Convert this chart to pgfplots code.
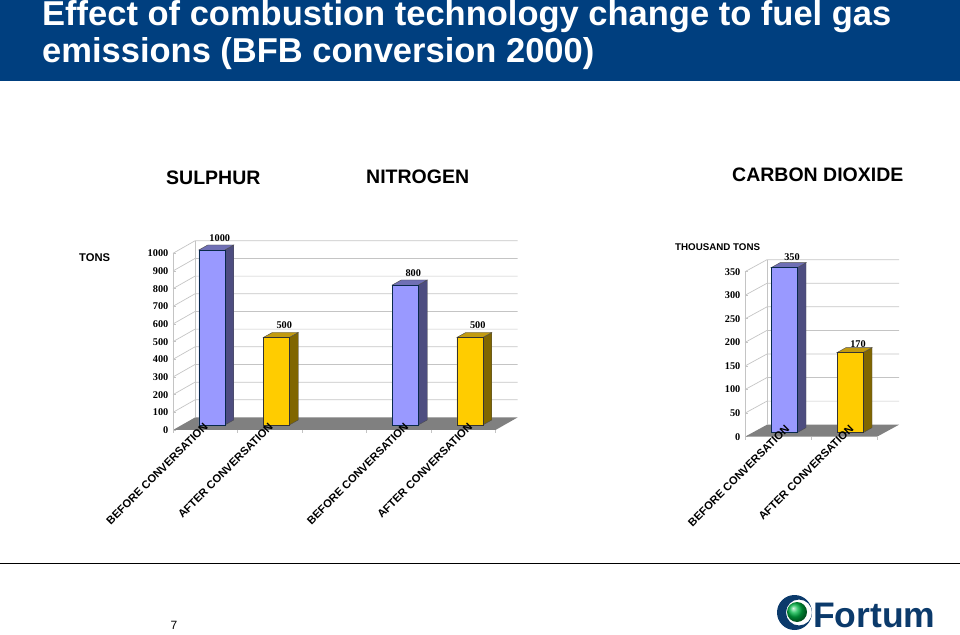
\documentclass[border=0pt]{standalone}
\usepackage{fontspec}
\setmainfont{Liberation Sans}
\newfontfamily\serifnum{Liberation Serif}
\usepackage{pgfplots}
\pgfplotsset{compat=1.18}

\definecolor{titleblue}{HTML}{003F7F}
\definecolor{navy}{HTML}{0B3A6B}
\definecolor{barblue}{HTML}{9999FF}
\definecolor{barblueside}{HTML}{4D4D80}
\definecolor{barbluetop}{HTML}{6F6FB5}
\definecolor{baryel}{HTML}{FFCC00}
\definecolor{baryelside}{HTML}{806600}
\definecolor{baryeltop}{HTML}{C29B10}
\definecolor{wallgrey}{HTML}{C4C4C4}
\definecolor{floorgrey}{HTML}{808080}

\tikzset{wall/.style={wallgrey, line width=.7pt}}

\pgfplotsset{
  every axis/.append style={
    scale only axis, clip=false, enlargelimits=false,
    /pgf/number format/assume math mode=true,
    /pgf/number format/1000 sep={},
  },
  frame3d/.style={
    axis line style={draw=none},
    xtick=\empty,
    tick style={wallgrey, line width=.7pt},
    major tick length=3pt,
    ymin=0,
    yticklabel style={font=\serifnum\bfseries\fontsize{10.3}{10}\selectfont, inner sep=0pt, xshift=-4.5pt},
    ytick pos=left,
    xmin=0,
  },
  bars3d/.style={
    axis on top,
    axis line style={draw=none},
    tick style={draw=none},
    ytick=\empty,
    xmin=0, ymin=0,
    xticklabel style={rotate=45, anchor=east, inner sep=0pt,
      font=\bfseries\fontsize{11.1}{12}\selectfont},
    nodes near coords,
    every node near coord/.append style={anchor=center, inner sep=0pt, xshift=8pt,
      font=\serifnum\bfseries\fontsize{10.3}{10}\selectfont, text=black},
  },
  barblue/.style={ybar, bar shift=0pt, bar width=26pt, draw=navy!70!black, fill=barblue},
  baryel/.style={ybar, bar shift=0pt, bar width=26pt, draw=black!80, fill=baryel},
}

% side and top face of one bar: centre x, value, side colour, top colour
\newcommand{\barfaces}[4]{
  \draw[black!70, fill=#3] ([xshift=13pt]axis cs:#1,0) -- ([xshift=22pt,yshift=5pt]axis cs:#1,0)
    -- ([xshift=22pt,yshift=5pt]axis cs:#1,#2) -- ([xshift=13pt]axis cs:#1,#2) -- cycle;
  \draw[black!70, fill=#4] ([xshift=-13pt]axis cs:#1,#2) -- ([xshift=-4pt,yshift=5pt]axis cs:#1,#2)
    -- ([xshift=22pt,yshift=5pt]axis cs:#1,#2) -- ([xshift=13pt]axis cs:#1,#2) -- cycle;
}

\begin{document}
\begin{tikzpicture}[x=1pt,y=1pt]
\useasboundingbox (0,0) rectangle (960,634);

% title band
\fill[titleblue] (0,553) rectangle (960,634);
\node[anchor=base west, inner sep=0pt, text=white, font=\bfseries\fontsize{34.5}{36}\selectfont] at (42,608.5) {Effect of combustion technology change to fuel gas};
\node[anchor=base west, inner sep=0pt, text=white, font=\bfseries\fontsize{34.5}{36}\selectfont] at (42,571.8) {emissions (BFB conversion 2000)};

% group headings
\node[anchor=base west, inner sep=0pt, font=\bfseries\fontsize{19.5}{20}\selectfont] at (166,449) {SULPHUR};
\node[anchor=base west, inner sep=0pt, font=\bfseries\fontsize{19.5}{20}\selectfont] at (366,450) {NITROGEN};
\node[anchor=base west, inner sep=0pt, font=\bfseries\fontsize{19.5}{20}\selectfont] at (732,452) {CARBON DIOXIDE};
\node[anchor=base west, inner sep=0pt, font=\bfseries\fontsize{11.2}{12}\selectfont] at (79,372) {TONS};
\node[anchor=base west, inner sep=0pt, font=\bfseries\fontsize{9.75}{11}\selectfont] at (675,383) {THOUSAND TONS};

% left chart: walls and floor
\begin{axis}[frame3d, at={(173pt,204pt)}, anchor=south west,
    width=322.5pt, height=176.7pt, xmax=5, ymax=1000,
    ytick={0,100,...,1000}]
  \addplot[draw=none] coordinates {(0,0) (5,1000)};
  \fill[floorgrey] (axis cs:0,0) -- ([xshift=22pt,yshift=12.5pt]axis cs:0,0)
    -- ([xshift=22pt,yshift=12.5pt]axis cs:5,0) -- (axis cs:5,0) -- cycle;
  \draw[wall] (axis cs:0,0) -- (axis cs:0,1000);
  \draw[wall] ([xshift=22pt,yshift=12.5pt]axis cs:0,0) -- ([xshift=22pt,yshift=12.5pt]axis cs:0,1000);
  \pgfplotsinvokeforeach{100,200,...,1000}{
    \draw[wall] (axis cs:0,#1) -- ([xshift=22pt,yshift=12.5pt]axis cs:0,#1)
      -- ([xshift=22pt,yshift=12.5pt]axis cs:5,#1);
  }
  \pgfplotsinvokeforeach{0,1,...,5}{
    \draw[wall] (axis cs:#1,0) -- ([yshift=-3pt]axis cs:#1,0);
  }
\end{axis}

% left chart: bars
\begin{axis}[bars3d, at={(179.5pt,209pt)}, anchor=south west,
    width=322.5pt, height=175pt, xmax=5, ymax=1000,
    xtick={0.41,1.42,3.52,4.51},
    xticklabels={BEFORE CONVERSATION,AFTER CONVERSATION,BEFORE CONVERSATION,AFTER CONVERSATION},
    every node near coord/.append style={yshift=12.3pt}]
  \barfaces{0.5}{1000}{barblueside}{barbluetop}
  \barfaces{3.5}{800}{barblueside}{barbluetop}
  \barfaces{1.5}{500}{baryelside}{baryeltop}
  \barfaces{4.5}{500}{baryelside}{baryeltop}
  \addplot[barblue] coordinates {(0.5,1000) (3.5,800)};
  \addplot[baryel] coordinates {(1.5,500) (4.5,500)};
\end{axis}

% right chart: walls and floor
\begin{axis}[frame3d, at={(745pt,197.3pt)}, anchor=south west,
    width=132pt, height=165pt, xmax=2, ymax=350,
    ytick={0,50,...,350}]
  \addplot[draw=none] coordinates {(0,0) (2,350)};
  \fill[floorgrey] (axis cs:0,0) -- ([xshift=22pt,yshift=12pt]axis cs:0,0)
    -- ([xshift=22pt,yshift=12pt]axis cs:2,0) -- (axis cs:2,0) -- cycle;
  \draw[wall] (axis cs:0,0) -- (axis cs:0,350);
  \draw[wall] ([xshift=22pt,yshift=12pt]axis cs:0,0) -- ([xshift=22pt,yshift=12pt]axis cs:0,350);
  \pgfplotsinvokeforeach{50,100,...,350}{
    \draw[wall] (axis cs:0,#1) -- ([xshift=22pt,yshift=12pt]axis cs:0,#1)
      -- ([xshift=22pt,yshift=12pt]axis cs:2,#1);
  }
  \pgfplotsinvokeforeach{0,1,2}{
    \draw[wall] (axis cs:#1,0) -- ([yshift=-3pt]axis cs:#1,0);
  }
\end{axis}

% right chart: bars
\begin{axis}[bars3d, at={(751pt,201.3pt)}, anchor=south west,
    width=132pt, height=165pt, xmax=2, ymax=350,
    xtick={0.64,1.61},
    xticklabel style={yshift=8pt},
    xticklabels={BEFORE CONVERSATION,AFTER CONVERSATION}]
  \barfaces{0.5}{350}{barblueside}{barbluetop}
  \barfaces{1.5}{170}{baryelside}{baryeltop}
  \addplot[barblue, every node near coord/.append style={yshift=11pt}] coordinates {(0.5,350)};
  \addplot[baryel, every node near coord/.append style={yshift=8pt}] coordinates {(1.5,170)};
\end{axis}

% footer
\draw[black, line width=1pt] (0,70.7) -- (960,70.7);
\node[anchor=base, inner sep=0pt, font=\fontsize{12}{12}\selectfont] at (174,5) {7};

% logo
\fill[navy, even odd rule] (794.5,21.5) circle (17.5) (799,21.5) circle (13);
\shade[ball color=green!45!teal] (797,22) circle (10);
\node[anchor=base west, inner sep=0pt, text=navy, font=\fontsize{35.5}{36}\selectfont\bfseries] at (813,7) {Fortum};
\end{tikzpicture}
\end{document}
